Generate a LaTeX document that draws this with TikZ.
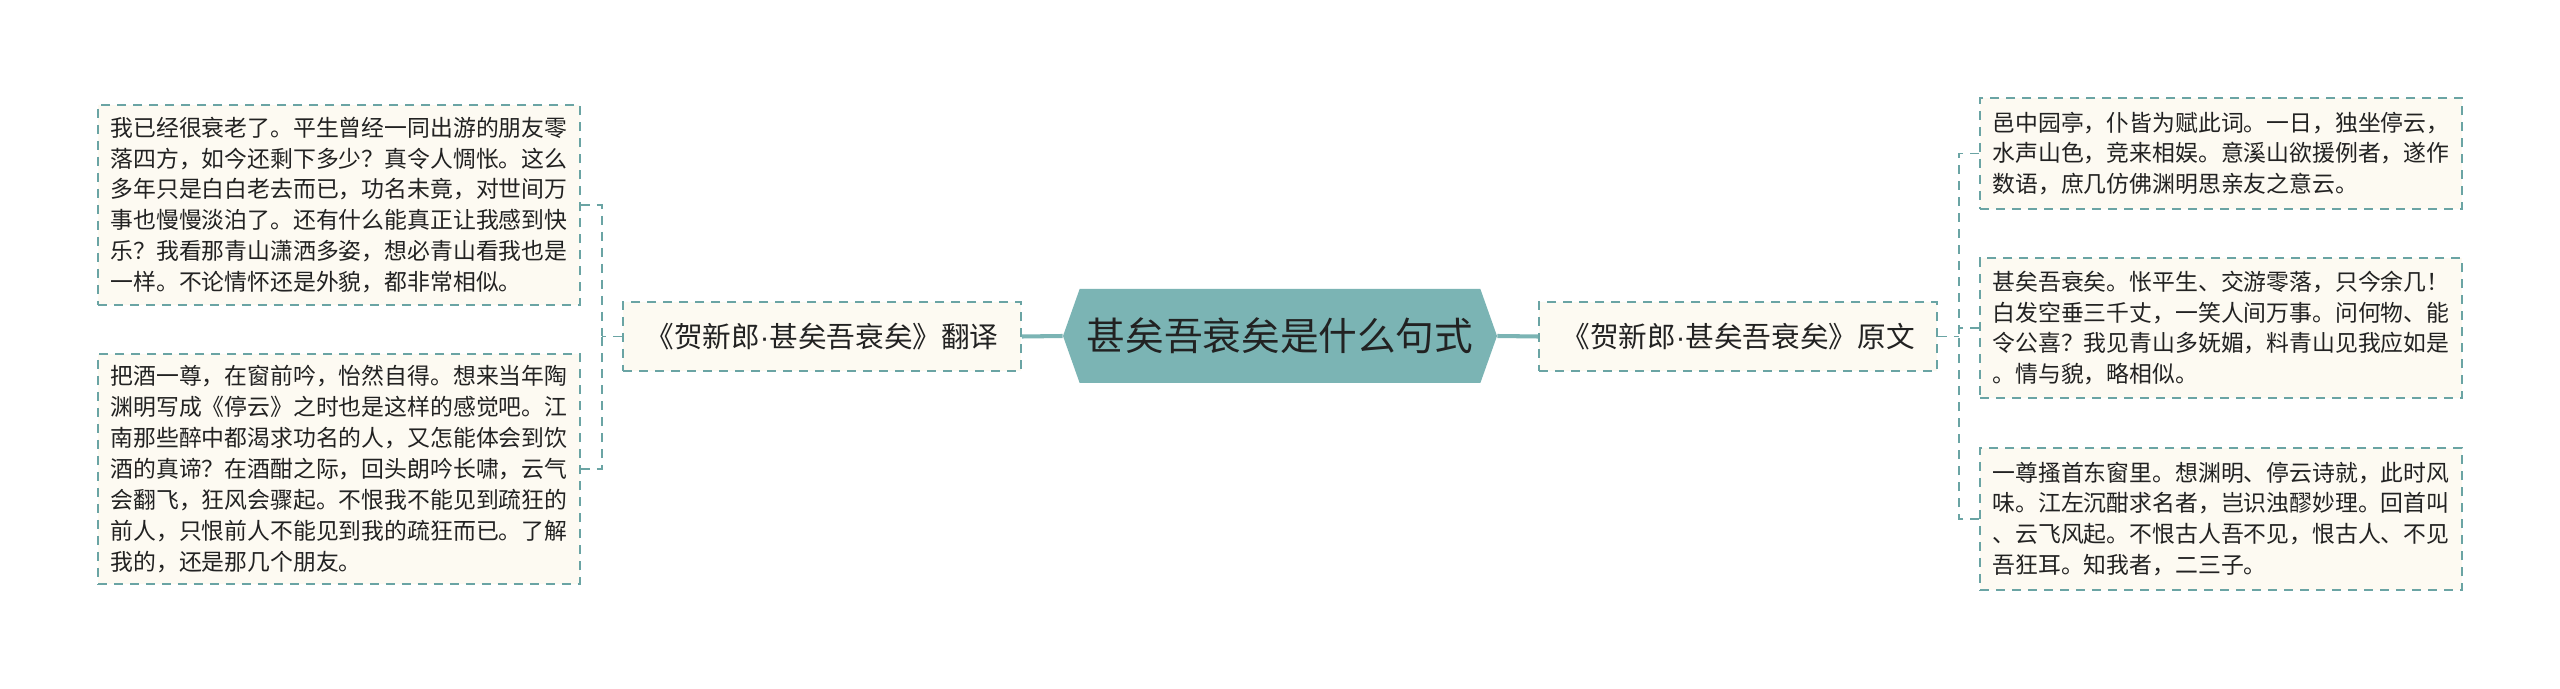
\documentclass[tikz,border=0pt]{standalone}
\usepackage{fontspec}
\setmainfont{Noto Sans CJK SC}
\newfontfamily\dotfont{Liberation Sans}
\usetikzlibrary{shapes.symbols}
\definecolor{hexteal}{HTML}{7BB4B4}
\definecolor{lineteal}{HTML}{6AA4A4}
\definecolor{leafcream}{HTML}{FDFAF2}
\definecolor{inkgray}{HTML}{222222}
\newcommand{\middot}{{\dotfont ·}}

\begin{document}
\begin{tikzpicture}
	\tikzstyle{leaf} = [draw=lineteal, line width=1.1pt, dash pattern=on 0.18cm off 0.14cm, fill=leafcream, text=inkgray, align=left, font=\fontsize{13}{17.6}\selectfont, minimum width=9.64cm, inner sep=0pt]
	\tikzstyle{branch} = [leaf, align=center, font=\fontsize{16.3}{19}\selectfont, minimum width=7.96cm, minimum height=1.38cm]
	\tikzstyle{hexroot} = [shape=signal, signal to=east and west, signal pointer angle=141, fill=hexteal, text=inkgray, font=\fontsize{22}{26}\selectfont, minimum width=8.68cm, minimum height=1.88cm, inner sep=0pt]
	\tikzstyle{link} = [draw=lineteal, line width=1.1pt, dash pattern=on 0.18cm off 0.14cm]
	\tikzstyle{trunk} = [draw=hexteal, line width=2.3pt]
	\fill[white] (0, 0) rectangle (51.2, -13.78);
	\node[hexroot] (root) at (25.60, -6.72) {甚矣吾衰矣是什么句式};
	\node[branch] (trans) at (16.44, -6.73) {《贺新郎\middot 甚矣吾衰矣》翻译};
	\node[branch] (orig) at (34.76, -6.73) {《贺新郎\middot 甚矣吾衰矣》原文};
	\node[leaf, minimum height=4.00cm] (tleafa) at (6.78, -4.10) {我已经很衰老了。平生曾经一同出游的朋友零\\落四方，如今还剩下多少？真令人惆怅。这么\\多年只是白白老去而已，功名未竟，对世间万\\事也慢慢淡泊了。还有什么能真正让我感到快\\乐？我看那青山潇洒多姿，想必青山看我也是\\一样。不论情怀还是外貌，都非常相似。};
	\node[leaf, minimum height=4.60cm] (tleafb) at (6.78, -9.38) {把酒一尊，在窗前吟，怡然自得。想来当年陶\\渊明写成《停云》之时也是这样的感觉吧。江\\南那些醉中都渴求功名的人，又怎能体会到饮\\酒的真谛？在酒酣之际，回头朗吟长啸，云气\\会翻飞，狂风会骤起。不恨我不能见到疏狂的\\前人，只恨前人不能见到我的疏狂而已。了解\\我的，还是那几个朋友。};
	\node[leaf, minimum height=2.22cm] (oleafa) at (44.42, -3.07) {邑中园亭，仆皆为赋此词。一日，独坐停云，\\水声山色，竞来相娱。意溪山欲援例者，遂作\\数语，庶几仿佛渊明思亲友之意云。};
	\node[leaf, minimum height=2.80cm] (oleafb) at (44.42, -6.56) {甚矣吾衰矣。怅平生、交游零落，只今余几！\\白发空垂三千丈，一笑人间万事。问何物、能\\令公喜？我见青山多妩媚，料青山见我应如是\\。情与貌，略相似。};
	\node[leaf, minimum height=2.84cm] (oleafc) at (44.42, -10.38) {一尊搔首东窗里。想渊明、停云诗就，此时风\\味。江左沉酣求名者，岂识浊醪妙理。回首叫\\、云飞风起。不恨古人吾不见，恨古人、不见\\吾狂耳。知我者，二三子。};
	\coordinate (tbus) at (12.04, -6.73);
	\coordinate (obus) at (39.18, -6.73);
	\draw[trunk] (root.west)--(trans.east);
	\draw[trunk] (root.east)--(orig.west);
	\draw[link] (trans.west)--(tbus);
	\draw[link] (tleafa.east) -| (tbus);
	\draw[link] (tleafb.east) -| (tbus);
	\draw[link] (orig.east)--(obus);
	\draw[link] (oleafa.west) -| (obus);
	\draw[link] (oleafb.west) -| (obus);
	\draw[link] (oleafc.west) -| (obus);
\end{tikzpicture}
\end{document}
